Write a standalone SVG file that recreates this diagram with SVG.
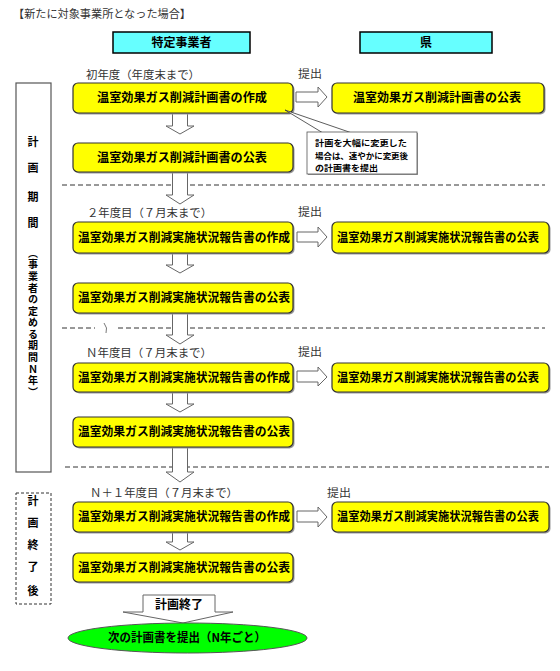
<svg xmlns="http://www.w3.org/2000/svg" width="560" height="671" viewBox="0 0 560 671">
<style>
text{font-family:"Noto Sans CJK JP","Noto Sans",sans-serif}
.box{fill:#ffff00;stroke:#333;stroke-width:1.2}
.sh{fill:#999}
.hd{fill:#66ffff;stroke:#000;stroke-width:1.5}
.bt{font-weight:bold;font-size:12px;fill:#000}
.lb{font-size:11px;fill:#333}
.vt{font-weight:bold;font-size:11px;fill:#000;text-anchor:middle}
.vs{font-weight:bold;font-size:10px;fill:#000;writing-mode:vertical-rl}
.arr{fill:#fff;stroke:#666;stroke-width:1}
.dash{stroke:#333;stroke-width:1;stroke-dasharray:5 3;fill:none}
.frame{fill:#fff;stroke:#555;stroke-width:1.2}
.co{font-weight:bold;font-size:8px;fill:#000}
</style>
<rect width="560" height="671" fill="#fff"/>
<text class="lb" x="13" y="18" textLength="178" lengthAdjust="spacingAndGlyphs" fill="#000">【新たに対象事業所となった場合】</text>

<g id="header-jigyosha"><rect class="hd" x="113" y="32" width="137" height="21"/><text class="bt" x="181.5" y="47" text-anchor="middle">特定事業者</text></g>
<g id="header-ken"><rect class="hd" x="360" y="32" width="132" height="21"/><text class="bt" x="426" y="47" text-anchor="middle">県</text></g>

<g id="period-plan"><rect class="frame" x="16" y="83" width="35" height="389"/>
<text class="vt" x="33" y="146">計</text><text class="vt" x="33" y="172">画</text><text class="vt" x="33" y="201">期</text><text class="vt" x="33" y="227">間</text>
<text class="vs" x="33" y="248" textLength="149" lengthAdjust="spacing">（事業者の定める期間Ｎ年）</text>
</g>
<g id="period-after"><rect x="16" y="493" width="35" height="111" fill="#fff" stroke="#333" stroke-width="1" stroke-dasharray="3 2"/>
<text class="vt" x="33" y="505">計</text><text class="vt" x="33" y="527">画</text><text class="vt" x="33" y="549">終</text><text class="vt" x="33" y="571">了</text><text class="vt" x="33" y="595">後</text>
</g>

<g id="separators">
<line class="dash" x1="62" y1="185" x2="545" y2="185"/>
<line class="dash" x1="62" y1="328" x2="95" y2="328"/>
<path d="M104,323 Q108,328 106,333" fill="none" stroke="#555" stroke-width="0.8"/>
<line class="dash" x1="118" y1="328" x2="545" y2="328"/>
<line class="dash" x1="65" y1="467" x2="549" y2="467"/>
</g>

<g id="labels">
<text class="lb" x="86" y="79" textLength="114" lengthAdjust="spacingAndGlyphs">初年度（年度末まで）</text>
<text class="lb" x="298" y="78" textLength="24" lengthAdjust="spacingAndGlyphs">提出</text>
<text class="lb" x="87" y="217" textLength="125" lengthAdjust="spacingAndGlyphs">２年度目（７月末まで）</text>
<text class="lb" x="298" y="216" textLength="24" lengthAdjust="spacingAndGlyphs">提出</text>
<text class="lb" x="86" y="357" textLength="126" lengthAdjust="spacingAndGlyphs">Ｎ年度目（７月末まで）</text>
<text class="lb" x="298" y="356" textLength="24" lengthAdjust="spacingAndGlyphs">提出</text>
<text class="lb" x="90" y="497" textLength="148" lengthAdjust="spacingAndGlyphs">Ｎ＋１年度目（７月末まで）</text>
<text class="lb" x="327" y="497" textLength="24" lengthAdjust="spacingAndGlyphs">提出</text>
</g>

<g id="connectors">
<polygon class="arr" points="172.5,113 187.5,113 187.5,126 194,126 180,134 166,126 172.5,126"/>
<polygon class="arr" points="172.5,172 187.5,172 187.5,195 194,195 180,204 166,195 172.5,195"/>
<polygon class="arr" points="172.5,253 187.5,253 187.5,265 194,265 180,273 166,265 172.5,265"/>
<polygon class="arr" points="172.5,313 187.5,313 187.5,335 194,335 180,344 166,335 172.5,335"/>
<polygon class="arr" points="172.5,392 187.5,392 187.5,404 194,404 180,412 166,404 172.5,404"/>
<polygon class="arr" points="172.5,447 187.5,447 187.5,472 194,472 180,482 166,472 172.5,472"/>
<polygon class="arr" points="172.5,532 187.5,532 187.5,542 194,542 180,550 166,542 172.5,542"/>
<polygon class="arr" points="296,92 318,92 318,87 327,97 318,107 318,102 296,102"/>
<polygon class="arr" points="297,232 318,232 318,227 327,237 318,247 318,242 297,242"/>
<polygon class="arr" points="297,371 318,371 318,367 327,377 318,386 318,382 297,382"/>
<polygon class="arr" points="297,511 318,511 318,507 327,517 318,527 318,522 297,522"/>
<polygon class="arr" points="143,595 215,595 215,612 233,612 183,623 123,612 143,612"/>
</g>
<text class="bt" x="179" y="609" text-anchor="middle" font-size="11">計画終了</text>

<g id="n-plan-make"><rect class="sh" x="74.5" y="84.5" width="220" height="30" rx="5"/><rect class="box" x="73" y="83" width="220" height="30" rx="5"/><text class="bt" x="97" y="102" textLength="170" lengthAdjust="spacingAndGlyphs">温室効果ガス削減計画書の作成</text></g>
<g id="n-plan-pub-ken"><rect class="sh" x="333.5" y="84.5" width="212" height="30" rx="5"/><rect class="box" x="332" y="83" width="212" height="30" rx="5"/><text class="bt" x="353" y="102" textLength="168" lengthAdjust="spacingAndGlyphs">温室効果ガス削減計画書の公表</text></g>
<g id="n-callout">
<polygon points="285,110 323,133 352,133" fill="#fff" stroke="#333" stroke-width="0.8"/>
<rect x="308" y="133" width="110" height="42" fill="#999"/>
<rect x="307" y="132" width="110" height="42" fill="#fff" stroke="#555" stroke-width="0.8"/>
<text class="co" x="315" y="146" textLength="92" lengthAdjust="spacingAndGlyphs">計画を大幅に変更した</text>
<text class="co" x="315" y="158.5" textLength="93" lengthAdjust="spacingAndGlyphs">場合は、速やかに変更後</text>
<text class="co" x="315" y="171" textLength="63" lengthAdjust="spacingAndGlyphs">の計画書を提出</text>
</g>
<g id="n-plan-pub"><rect class="sh" x="74.5" y="144.5" width="220" height="29" rx="5"/><rect class="box" x="73" y="143" width="220" height="29" rx="5"/><text class="bt" x="97" y="162" textLength="170" lengthAdjust="spacingAndGlyphs">温室効果ガス削減計画書の公表</text></g>

<g id="n-rep2-make"><rect class="sh" x="74.5" y="223.5" width="220" height="31" rx="5"/><rect class="box" x="73" y="222" width="220" height="31" rx="5"/><text class="bt" x="78" y="242" textLength="212" lengthAdjust="spacingAndGlyphs">温室効果ガス削減実施状況報告書の作成</text></g>
<g id="n-rep2-ken"><rect class="sh" x="333.5" y="223.5" width="217" height="31" rx="5"/><rect class="box" x="332" y="222" width="217" height="31" rx="5"/><text class="bt" x="337" y="242" textLength="202" lengthAdjust="spacingAndGlyphs">温室効果ガス削減実施状況報告書の公表</text></g>
<g id="n-rep2-pub"><rect class="sh" x="74.5" y="284.5" width="220" height="30" rx="5"/><rect class="box" x="73" y="283" width="220" height="30" rx="5"/><text class="bt" x="78" y="302" textLength="212" lengthAdjust="spacingAndGlyphs">温室効果ガス削減実施状況報告書の公表</text></g>

<g id="n-repN-make"><rect class="sh" x="74.5" y="364.5" width="220" height="29" rx="5"/><rect class="box" x="73" y="363" width="220" height="29" rx="5"/><text class="bt" x="78" y="382" textLength="212" lengthAdjust="spacingAndGlyphs">温室効果ガス削減実施状況報告書の作成</text></g>
<g id="n-repN-ken"><rect class="sh" x="333.5" y="364.5" width="217" height="29" rx="5"/><rect class="box" x="332" y="363" width="217" height="29" rx="5"/><text class="bt" x="337" y="382" textLength="202" lengthAdjust="spacingAndGlyphs">温室効果ガス削減実施状況報告書の公表</text></g>
<g id="n-repN-pub"><rect class="sh" x="74.5" y="418.5" width="220" height="30" rx="5"/><rect class="box" x="73" y="417" width="220" height="30" rx="5"/><text class="bt" x="78" y="436" textLength="212" lengthAdjust="spacingAndGlyphs">温室効果ガス削減実施状況報告書の公表</text></g>

<g id="n-repN1-make"><rect class="sh" x="74.5" y="503.5" width="220" height="30" rx="5"/><rect class="box" x="73" y="502" width="220" height="30" rx="5"/><text class="bt" x="78" y="521" textLength="212" lengthAdjust="spacingAndGlyphs">温室効果ガス削減実施状況報告書の作成</text></g>
<g id="n-repN1-ken"><rect class="sh" x="333.5" y="503.5" width="217" height="30" rx="5"/><rect class="box" x="332" y="502" width="217" height="30" rx="5"/><text class="bt" x="337" y="521" textLength="202" lengthAdjust="spacingAndGlyphs">温室効果ガス削減実施状況報告書の公表</text></g>
<g id="n-repN1-pub"><rect class="sh" x="74.5" y="554.5" width="220" height="29" rx="5"/><rect class="box" x="73" y="553" width="220" height="29" rx="5"/><text class="bt" x="78" y="572" textLength="212" lengthAdjust="spacingAndGlyphs">温室効果ガス削減実施状況報告書の公表</text></g>

<g id="n-next-plan"><ellipse cx="187.5" cy="638" rx="119.5" ry="15" fill="#00ff00" stroke="#555" stroke-width="1"/><text class="bt" x="108" y="642" textLength="158" lengthAdjust="spacingAndGlyphs">次の計画書を提出（N年ごと）</text></g>
</svg>
